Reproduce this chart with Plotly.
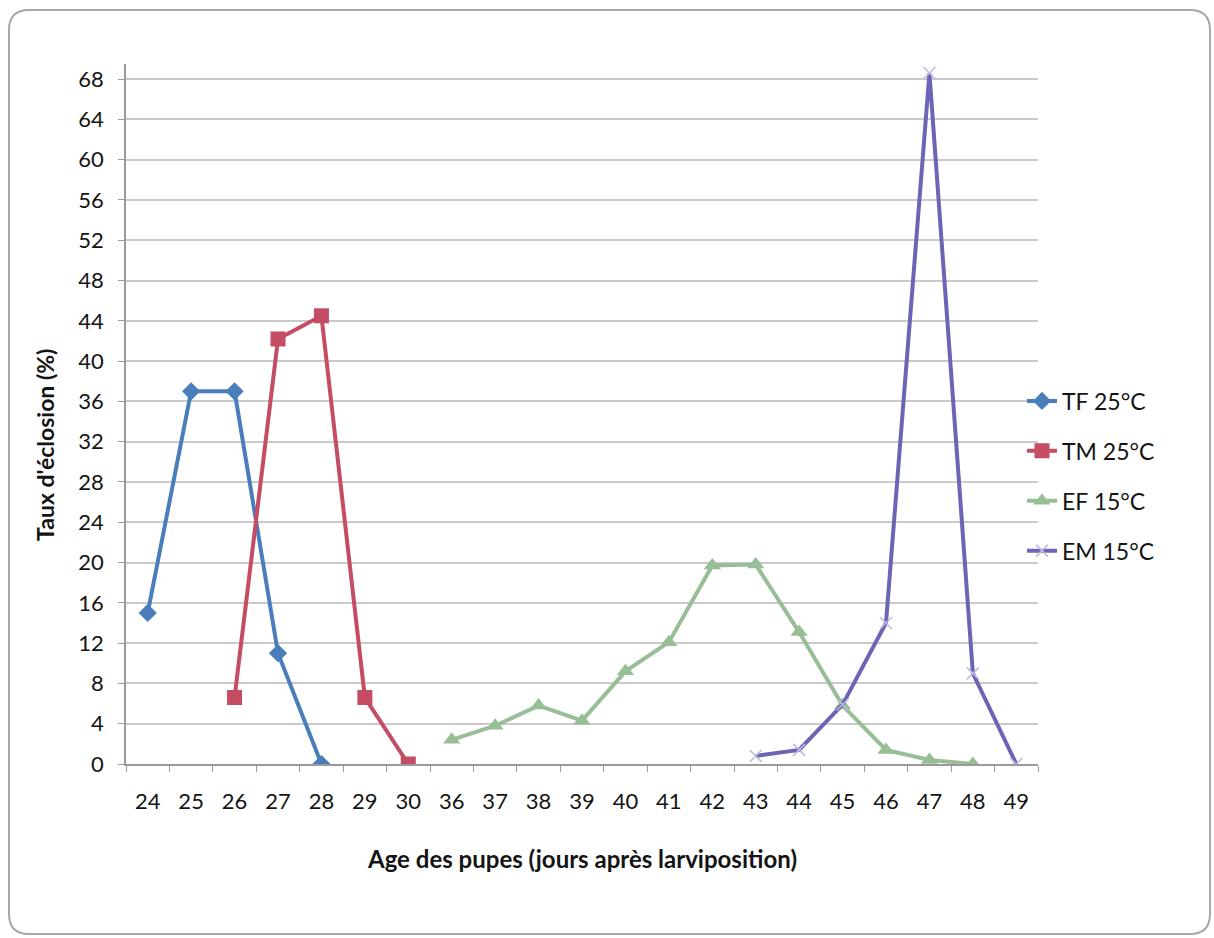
import plotly.graph_objects as go

# Age categories (days after larviposition)
ages = ["24", "25", "26", "27", "28", "29", "30", "36", "37", "38", "39",
        "40", "41", "42", "43", "44", "45", "46", "47", "48", "49"]

# Emergence rate (%) per age; None where the series has no value
tf_25 = [15, 37, 37, 11, 0, None, None, None, None, None, None,
         None, None, None, None, None, None, None, None, None, None]
tm_25 = [None, None, 6.6, 42.2, 44.5, 6.6, 0, None, None, None, None,
         None, None, None, None, None, None, None, None, None, None]
ef_15 = [None, None, None, None, None, None, None, 2.4, 3.8, 5.8, 4.3,
         9.2, 12.1, 19.7, 19.8, 13.1, 5.8, 1.4, 0.4, 0, None]
em_15 = [None, None, None, None, None, None, None, None, None, None, None,
         None, None, None, 0.8, 1.4, 5.9, 14.0, 68.6, 9.0, 0]

y_ticks = list(range(0, 69, 4))

FONT = "Lato, 'Open Sans', sans-serif"
TXT = "#141414"
W, H = 1214, 938
L, R, T, B = 126, 176, 64, 174
PW, PH = W - L - R, H - T - B


def px(x):
    return (x - L) / PW


def py(y):
    return (H - B - y) / PH


fig = go.Figure()

series = [
    ("TF 25°C", tf_25, "#4A7EBB", "diamond", 14),
    ("TM 25°C", tm_25, "#C44C63", "square", 15),
    ("EF 15°C", ef_15, "#98BE96", "triangle-up", 15),
    ("EM 15°C", em_15, "#6C64B4", "x-thin", 12),
]

for name, vals, color, sym, size in series:
    marker = dict(symbol=sym, size=size, color=color)
    if sym == "x-thin":
        marker = dict(symbol=sym, size=size, line=dict(color="#BDB9DF", width=1.5))
    fig.add_trace(go.Scatter(
        x=ages, y=vals, name=name, mode="lines+markers",
        line=dict(color=color, width=4),
        marker=marker, legendgroup=name, connectgaps=False,
    ))

# Rounded chart border
x0, y0, x1, y1, r = 9, 10, 1210, 934, 20
rx, ry = r / PW, r / PH
path = (
    f"M {px(x0)+rx},{py(y0)} L {px(x1)-rx},{py(y0)} "
    f"Q {px(x1)},{py(y0)} {px(x1)},{py(y0)-ry} "
    f"L {px(x1)},{py(y1)+ry} Q {px(x1)},{py(y1)} {px(x1)-rx},{py(y1)} "
    f"L {px(x0)+rx},{py(y1)} Q {px(x0)},{py(y1)} {px(x0)},{py(y1)+ry} "
    f"L {px(x0)},{py(y0)-ry} Q {px(x0)},{py(y0)} {px(x0)+rx},{py(y0)} Z"
)

fig.update_layout(
    width=W, height=H,
    margin=dict(l=L, r=R, t=T, b=B),
    paper_bgcolor="white", plot_bgcolor="white",
    font=dict(family=FONT, color=TXT),
    shapes=[dict(type="path", path=path, xref="paper", yref="paper",
                 line=dict(color="#A8A8A8", width=2), layer="below")],
    legend=dict(
        x=px(1022), y=py(476), xanchor="left", yanchor="middle",
        font=dict(size=23, family=FONT, color=TXT), tracegroupgap=17,
        bgcolor="rgba(0,0,0,0)", itemwidth=30,
    ),
    annotations=[
        dict(text="<b>Taux d'éclosion (%)</b>", textangle=-90, showarrow=False,
             xref="paper", yref="paper", x=px(45), y=py(445),
             xanchor="center", yanchor="middle",
             font=dict(size=23, family=FONT, color=TXT)),
        dict(text="<b>Age des pupes (jours après larviposition)</b>", showarrow=False,
             xref="paper", yref="paper", x=px(582), y=py(858),
             xanchor="center", yanchor="middle",
             font=dict(size=24, family=FONT, color=TXT)),
    ],
)

fig.update_xaxes(
    type="category", categoryorder="array", categoryarray=ages,
    range=[-0.5, len(ages) - 0.5],
    showgrid=False, showline=True, linecolor="#9A9A9A", linewidth=1.5,
    ticks="outside", tickson="boundaries", ticklen=6, tickcolor="#9A9A9A",
    tickfont=dict(size=22, family=FONT, color=TXT),
    ticklabelstandoff=17, zeroline=False,
)
fig.update_yaxes(
    range=[0, 69.5], tickvals=y_ticks, showgrid=True, gridcolor="#C9C9CE",
    gridwidth=1.5, showline=True, linecolor="#9A9A9A", linewidth=1.5,
    ticks="outside", ticklen=6, tickcolor="#9A9A9A",
    tickfont=dict(size=22, family=FONT, color=TXT),
    ticklabelstandoff=10, zeroline=False,
)

fig.write_html("out.html")
